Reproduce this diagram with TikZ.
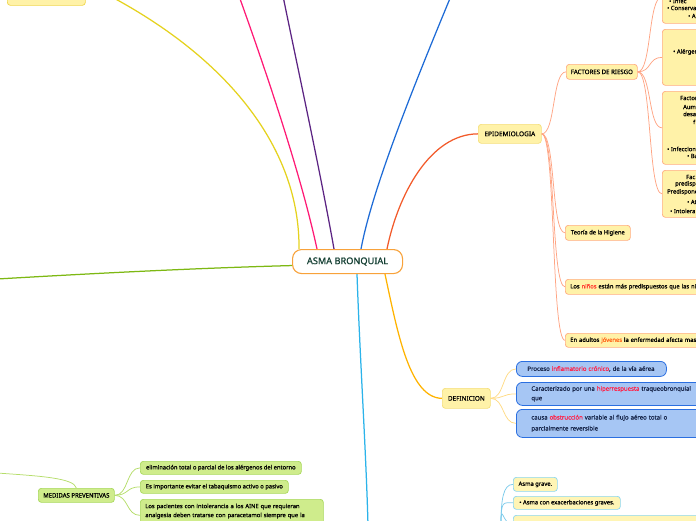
\documentclass[tikz,border=0pt]{standalone}
\usepackage{fontspec}
\setmainfont{Noto Sans}[FakeBold=0.8]
\definecolor{cYel}{HTML}{E5D21E}
\definecolor{cPink}{HTML}{FF1A75}
\definecolor{cPur}{HTML}{5C2483}
\definecolor{cBlue}{HTML}{1E6BD6}
\definecolor{cOrRed}{HTML}{F25A2A}
\definecolor{cOr}{HTML}{FFB300}
\definecolor{cLBlue}{HTML}{2BB3EA}
\definecolor{cGreen}{HTML}{7DB813}
\definecolor{cCenter}{HTML}{F8A23A}
\definecolor{cCText}{HTML}{143F33}
\definecolor{cYFill}{HTML}{FFF2A8}
\definecolor{cYBord}{HTML}{F5DF7A}
\definecolor{cSal}{HTML}{FFA584}
\definecolor{cSalB}{HTML}{FFAC80}
\definecolor{cDefL}{HTML}{FFDB85}
\definecolor{cBFill}{HTML}{A6C6F4}
\definecolor{cBBord}{HTML}{2B6FE0}
\definecolor{cBText}{HTML}{17264A}
\definecolor{cRed}{HTML}{FF2248}
\definecolor{cNin}{HTML}{FF3B30}
\definecolor{cJov}{HTML}{FF6A1F}
\definecolor{cGFill}{HTML}{CFEC8C}
\definecolor{cGBord}{HTML}{A8D85C}
\definecolor{cGLine}{HTML}{B5DD6A}
\definecolor{cLBFill}{HTML}{FFF5B5}
\definecolor{cLBBord}{HTML}{8AD6F0}
\definecolor{cLBLine}{HTML}{7CCBEB}
\definecolor{cTL}{HTML}{F0D64A}
\begin{document}
\begin{tikzpicture}[x=1pt,y=-1pt,font=\fontsize{5.8}{7}\selectfont,
  yb/.style={anchor=north west, draw=#1, fill=cYFill, rounded corners=3pt, line width=0.7pt, inner sep=0pt, text=black},
  bb/.style={anchor=north west, draw=cBBord, fill=cBFill, rounded corners=6pt, line width=0.8pt, inner sep=0pt, text=cBText},
  gb/.style={anchor=north west, draw=cGBord, fill=cGFill, rounded corners=3pt, line width=0.7pt, inner sep=0pt, text=black},
  lb/.style={anchor=north west, draw=cLBBord, fill=cLBFill, rounded corners=3pt, line width=0.7pt, inner sep=0pt, text=black},
  ft/.style={anchor=west, inner sep=0pt, text=black},
  cbox/.style={anchor=north west, draw=cCenter, fill=white, rounded corners=9pt, line width=1.1pt,
      minimum width=110pt, minimum height=24pt, inner sep=0pt, text=cCText,
      font=\fontsize{9.2}{11}\selectfont},
  mainln/.style={line width=1.25pt},
  subln/.style={line width=0.75pt}]
\useasboundingbox (0,0) rectangle (696,520);
\clip (0,0) rectangle (696,520);

% ---- free ends ----
\coordinate (yelE) at (110,-4);
\coordinate (pnkE) at (239,-4);
\coordinate (purE) at (283,-4);
\coordinate (bluE) at (451,-4);
\coordinate (lbE) at (368,525);
\coordinate (grE) at (-3,279);
\coordinate (mpE) at (-3,473);
\coordinate (lbS) at (501,525);

% ---- node geometry (invisible first, for anchors) ----
\node[cbox, draw=none, fill=none, text opacity=0] (c) at (292,249) {ASMA BRONQUIAL};
\node[yb=cYBord, draw=none, fill=none, text opacity=0, minimum width=63pt, minimum height=19pt] (epi) at (478,124) {};
\node[yb=cSalB, draw=none, fill=none, minimum width=71pt, minimum height=15pt] (fact) at (566,64) {};
\node[yb=cYBord, draw=none, fill=none, minimum width=48pt, minimum height=20pt] (def) at (442,388) {};
\node[gb, draw=none, fill=none, minimum width=76pt, minimum height=14pt] (med) at (38,488) {};

% ---- main branches ----
\draw[mainln, cYel] ([xshift=7pt]c.north west) .. controls (300,150) and (230,60) .. (yelE);
\draw[mainln, cPink] ([xshift=25pt]c.north west) .. controls (300,170) and (262,60) .. (pnkE);
\draw[mainln, cPur] ([xshift=42pt]c.north west) .. controls (320,170) and (296,60) .. (purE);
\draw[mainln, cBlue] ([xshift=69pt]c.north west) .. controls (372,190) and (412,90) .. (bluE);
\draw[mainln, cOrRed] ([xshift=95pt]c.north west) .. controls (398,195) and (430,134) .. (epi.west);
\draw[mainln, cOr] ([xshift=93pt]c.south west) .. controls (398,335) and (410,398) .. (def.west);
\draw[mainln, cLBlue] ([xshift=65pt]c.south west) .. controls (360,360) and (366,450) .. (lbE);
\draw[mainln, cGreen] ([yshift=-4pt]c.west) .. controls (200,268) and (100,273) .. (grE);

% ---- nodes ----
\node[yb=cTL, minimum width=78pt, minimum height=25pt] (tl) at (7,-20) {};
\node[cbox] at (292,249) {ASMA BRONQUIAL};
\node[yb=cYBord, minimum width=63pt, minimum height=19pt, font=\fontsize{6.5}{8}\selectfont] at (478,124) {EPIDEMIOLOGIA};
\node[yb=cSalB, minimum width=71pt, minimum height=15pt, font=\fontsize{6.1}{7}\selectfont] at (566,64) {FACTORES DE RIESGO};

\node[yb=cSalB, minimum width=60pt, minimum height=53pt] (f1) at (662,-30) {};
\node[yb=cSalB, minimum width=60pt, minimum height=56pt] (f2) at (662,29) {};
\node[yb=cSalB, minimum width=60pt, minimum height=73pt] (f3) at (662,91) {};
\node[yb=cSalB, minimum width=60pt, minimum height=47pt] (f4) at (662,170) {};

\node[ft] at (669,1) {• Infec};
\node[ft] at (667,8) {• Conserva};
\node[ft] at (688,16) {• A};
\node[ft] at (673,52) {• Alérgen};
\node[ft, font=\fontsize{5.8}{7}\selectfont\bfseries] at (680,98) {Factor};
\node[ft] at (683,107) {Aume};
\node[ft] at (683,114) {desa};
\node[ft] at (693,122) {f};
\node[ft] at (667,149) {• Infeccion};
\node[ft] at (687,156) {• Ba};
\node[ft, font=\fontsize{5.8}{7}\selectfont\bfseries] at (686,177) {Fac};
\node[ft, font=\fontsize{5.8}{7}\selectfont\bfseries] at (675,184) {predisp};
\node[ft] at (667,192) {Predispone};
\node[ft] at (687,202) {• At};
\node[ft] at (670,211) {• Intolera};

\node[yb=cSalB, minimum width=65pt, minimum height=15pt] (teo) at (565,225) {Teoría de la Higiene};
\node[yb=cSalB, text width=150pt, inner xsep=5pt, align=left, minimum height=15pt] (nin) at (565,279)
  {Los {\color{cNin}niños} están más predispuestos que las ni};
\node[yb=cSalB, text width=150pt, inner xsep=5pt, align=left, minimum height=14pt] (adu) at (565,333)
  {En adultos {\color{cJov}jóvenes} la enfermedad afecta mas};

\node[yb=cYBord, minimum width=48pt, minimum height=20pt, font=\fontsize{6.4}{8}\selectfont] at (442,388) {DEFINICION};
\node[bb, text width=128pt, inner xsep=11pt, align=left, minimum height=15pt, font=\fontsize{6}{7.5}\selectfont] (d1) at (516,361)
  {Proceso {\color{cRed}inflamatorio crónico}, de la vía aérea};
\node[bb, text width=200pt, inner xsep=15pt, align=left, minimum height=23pt, font=\fontsize{6}{9.5}\selectfont] (d2) at (516,382)
  {Caracterizado por una {\color{cRed}hiperrespuesta} traqueobronquial\\que};
\node[bb, text width=200pt, inner xsep=15pt, align=left, minimum height=28pt, font=\fontsize{6}{11}\selectfont] (d3) at (516,409)
  {causa {\color{cRed}obstrucción} variable al flujo aéreo total o\\parcialmente reversible};

\node[lb, minimum width=44pt, minimum height=14pt] (ag) at (513,477) {Asma grave.};
\node[lb, minimum width=107pt, minimum height=13pt] (ex) at (513,496) {• Asma con exacerbaciones graves.};
\node[lb, minimum width=200pt, minimum height=20pt] (th) at (513,515) {};

\node[gb, minimum width=76pt, minimum height=14pt, font=\fontsize{6}{7}\selectfont] at (38,488) {MEDIDAS PREVENTIVAS};
\node[gb, minimum width=161pt, minimum height=13pt] (m1) at (140,461) {eliminación total o parcial de los alérgenos del entorno};
\node[gb, minimum width=148pt, minimum height=13pt] (m2) at (140,480) {Es importante evitar el tabaquismo activo o pasivo};
\node[gb, text width=173pt, inner xsep=5pt, align=left, minimum height=32pt, font=\fontsize{5.8}{9}\selectfont] (m3) at (140,499)
  {\strut Los pacientes con intolerancia a los AINE que requieran\\analgesia deben tratarse con paracetamol siempre que la\\\strut};

% ---- sub branches ----
\begin{scope}
\foreach \t in {fact,teo,nin,adu}
  \draw[subln, cSal] (epi.east) .. controls +(14,0) and +(-14,0) .. (\t.west);
\foreach \t in {f1,f2,f3,f4}
  \draw[subln, cSal] (fact.east) .. controls +(14,0) and +(-14,0) .. (\t.west);
\foreach \t in {d1,d2,d3}
  \draw[subln, cDefL] (def.east) .. controls +(14,0) and +(-14,0) .. (\t.west);
\foreach \t in {m1,m2,m3}
  \draw[subln, cGLine] (med.east) .. controls +(14,0) and +(-14,0) .. (\t.west);
\draw[subln, cGLine] (mpE) .. controls (40,476) and (74,478) .. (med.north);
\foreach \t in {ag,ex,th}
  \draw[subln, cLBLine] (lbS) .. controls +(0,-25) and +(-10,0) .. (\t.west);
\end{scope}
\end{tikzpicture}
\end{document}
